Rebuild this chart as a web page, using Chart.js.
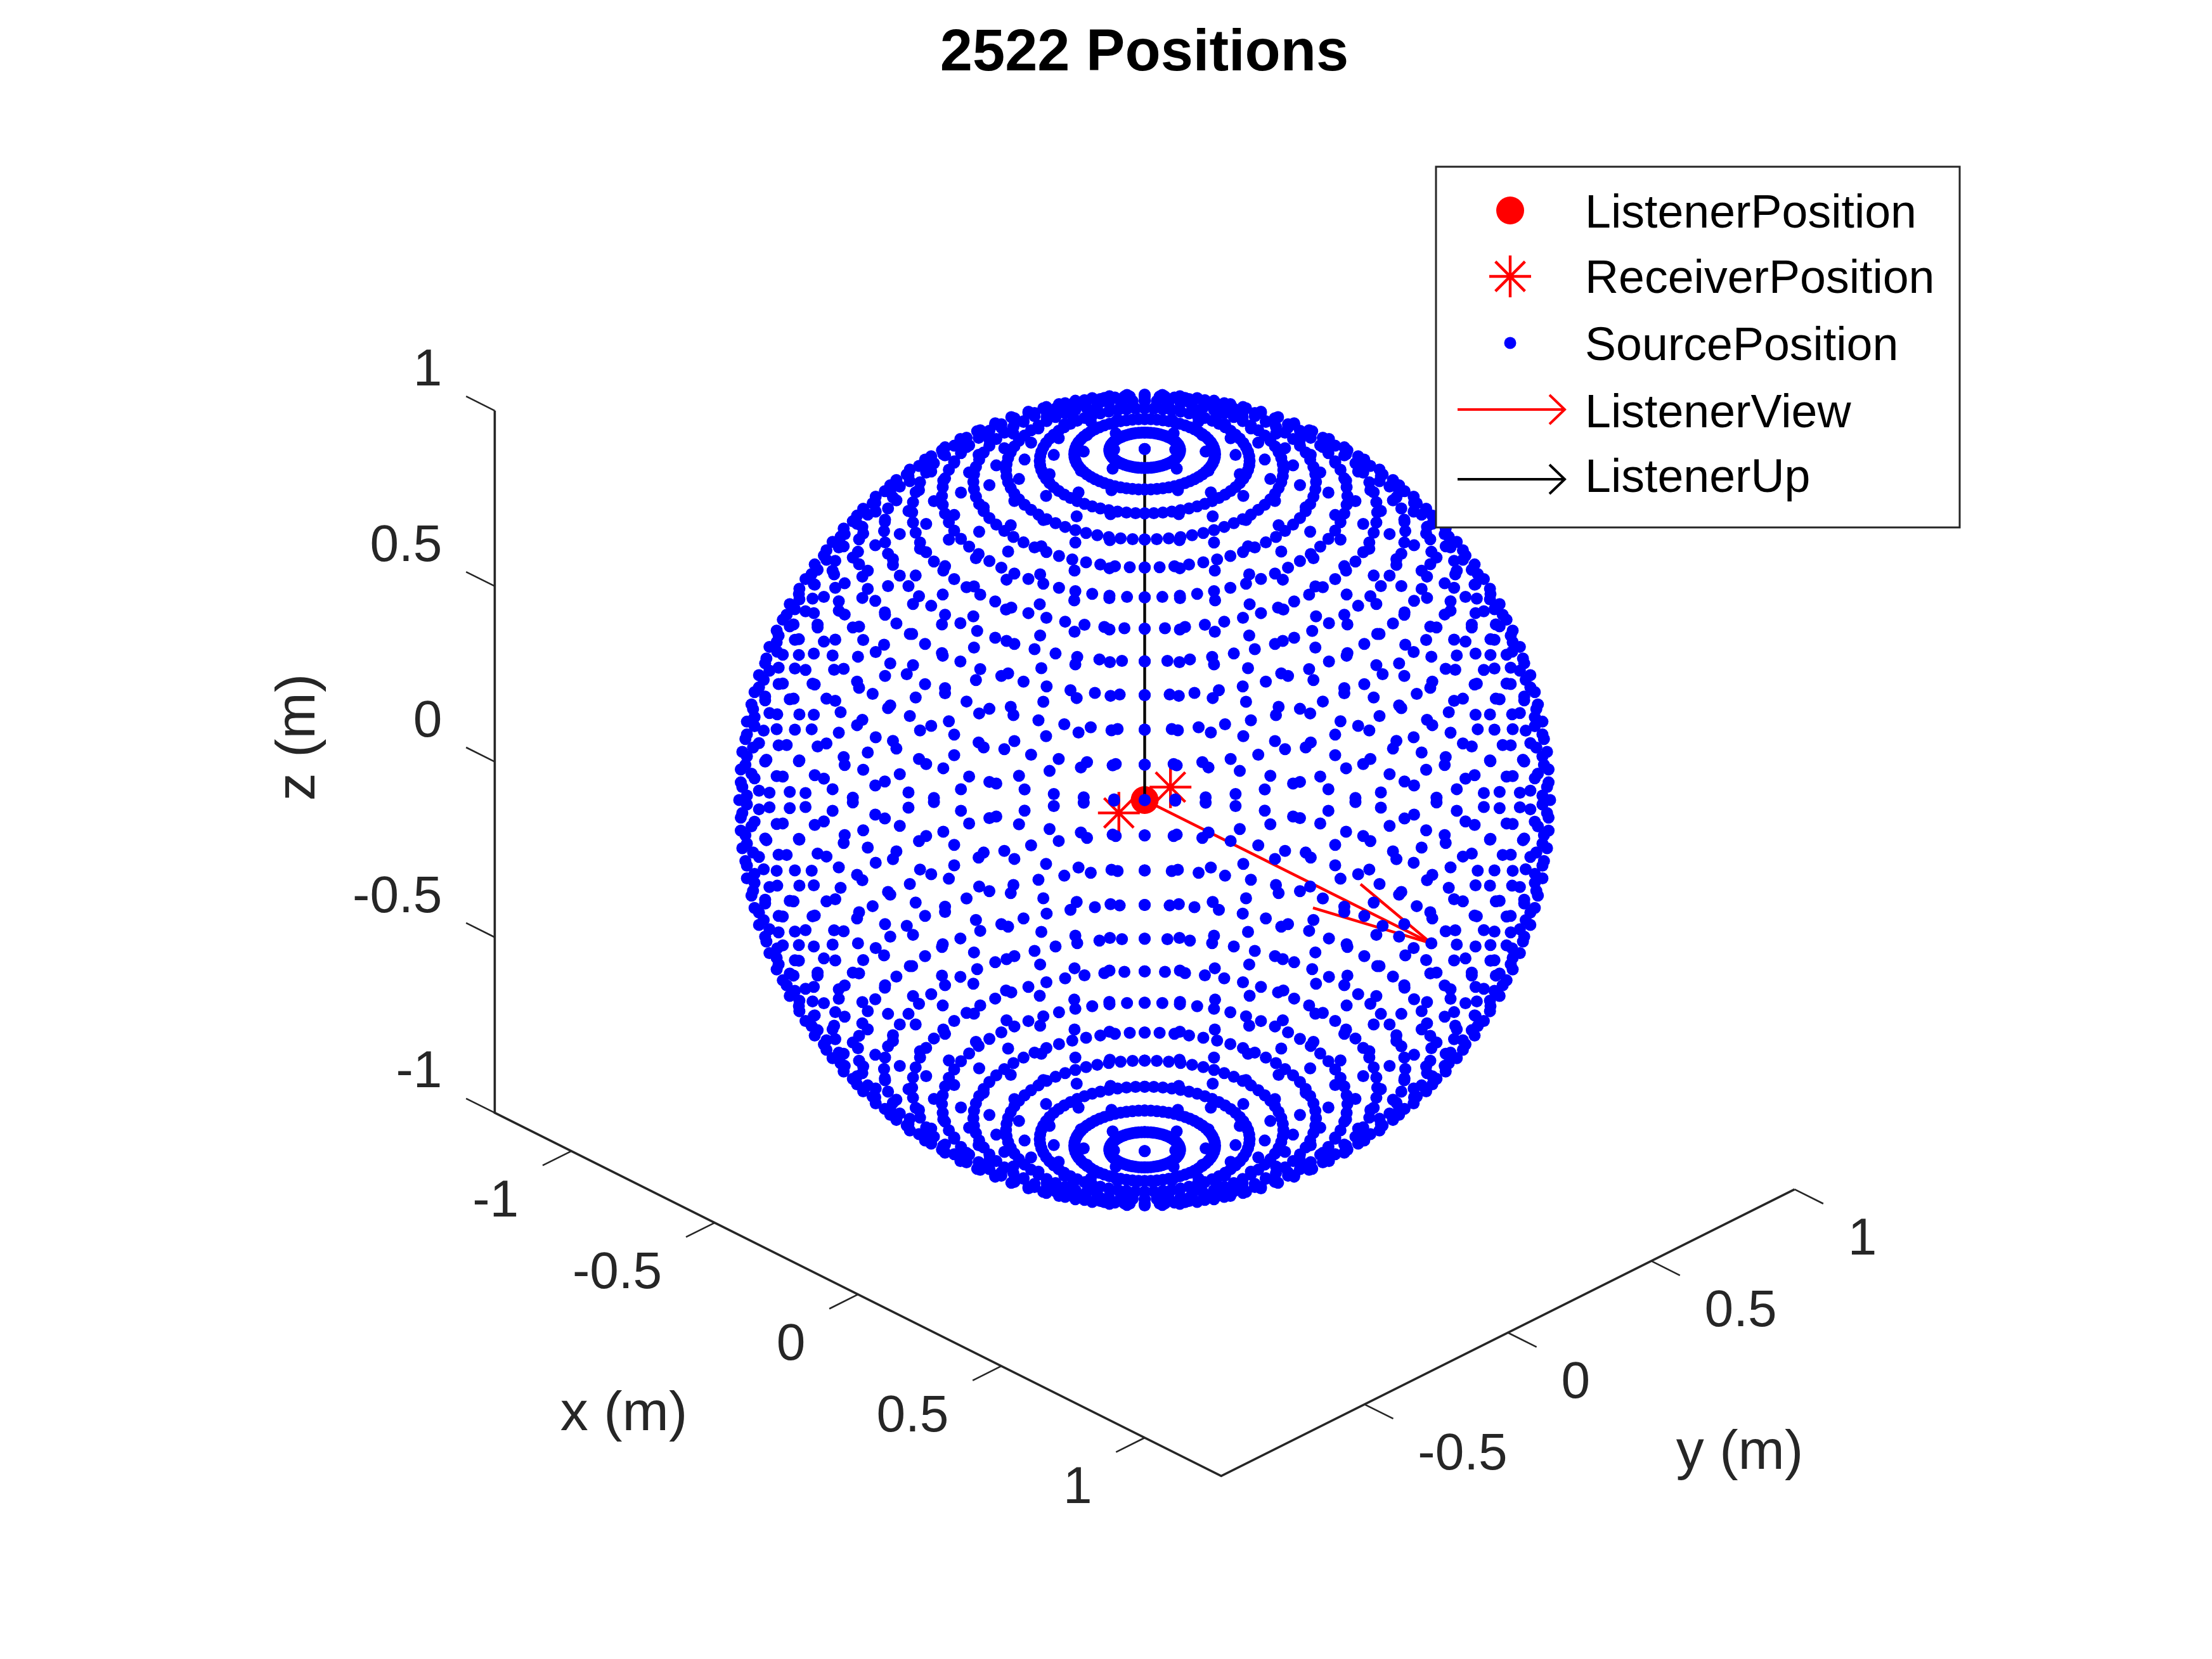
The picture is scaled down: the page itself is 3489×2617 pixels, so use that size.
<!DOCTYPE html>
<html>
<head>
<meta charset="utf-8">
<title>2522 Positions</title>
<style>
  html, body { margin: 0; padding: 0; background: #fff; }
  canvas { display: block; }
</style>
<script src="https://cdn.jsdelivr.net/npm/chart.js@4/dist/chart.umd.js"></script>
</head>
<body>
<canvas id="chart" width="3489" height="2617"></canvas>
<script>
// source grid (degrees)
const sourceAzimuths = [
  0, 5, 10, 15, 20, 25, 30, 35, 40, 45, 50, 55, 60, 65, 70, 75, 80, 85,
  90, 95, 100, 105, 110, 115, 120, 125, 130, 135, 140, 145, 150, 155, 160, 165, 170, 175,
  180, 185, 190, 195, 200, 205, 210, 215, 220, 225, 230, 235, 240, 245, 250, 255, 260, 265,
  270, 275, 280, 285, 290, 295, 300, 305, 310, 315, 320, 325, 330, 335, 340, 345, 350, 355
];
const sourceElevations = [
  -85, -80, -75, -70, -65, -60, -55, -50, -45, -40, -35, -30, -25, -20, -15, -10, -5, 0,
  5, 10, 15, 20, 25, 30, 35, 40, 45, 50, 55, 60, 65, 70, 75, 80, 85
];
const sourcePoles = [-90, 90];

// metres
const listenerPosition = [[0, 0, 0]];
const receiverPositions = [[0, 0.09, 0], [0, -0.09, 0]];
const listenerViewShaft = [[0, 0, 0], [1, 0, 0]];
const listenerViewHead = [[0.67, 0.083, 0], [1, 0, 0], [0.67, -0.083, 0]];
const listenerUpShaft = [[0, 0, 0], [0, 0, 1]];

const xLimits = [-1.267, 1.267];
const yLimits = [-1, 1];
const zLimits = [-1, 1];
const xTicks = [-1, -0.5, 0, 0.5, 1];
const yTicks = [-0.5, 0, 0.5, 1];
const zTicks = [-1, -0.5, 0, 0.5, 1];
const xTickLabels = ["-1", "-0.5", "0", "0.5", "1"];
const yTickLabels = ["-0.5", "0", "0.5", "1"];
const zTickLabels = ["-1", "-0.5", "0", "0.5", "1"];
const tickLength = 0.1;

const titleText = "2522 Positions";
const xLabel = "x (m)";
const yLabel = "y (m)";
const zLabel = "z (m)";
const legendLabels = ["ListenerPosition", "ReceiverPosition", "SourcePosition", "ListenerView", "ListenerUp"];

const viewAz = 45 * Math.PI / 180;
const viewEl = 30 * Math.PI / 180;
const AXIS_COLOR = "#262626";
const FONT = '"Liberation Sans", Arial, sans-serif';

function project(p) {
  const [x, y, z] = p;
  return {
    x: x * Math.cos(viewAz) + y * Math.sin(viewAz),
    y: -x * Math.sin(viewEl) * Math.sin(viewAz) + y * Math.sin(viewEl) * Math.cos(viewAz) + z * Math.cos(viewEl)
  };
}

function fromSpherical(az, el) {
  const a = az * Math.PI / 180, e = el * Math.PI / 180;
  return [Math.cos(e) * Math.cos(a), Math.cos(e) * Math.sin(a), Math.sin(e)];
}

const sourcePoints = [];
sourceElevations.forEach(el => {
  sourceAzimuths.forEach(az => sourcePoints.push(project(fromSpherical(az, el))));
});
sourcePoles.forEach(el => sourcePoints.push(project(fromSpherical(0, el))));

const gap = { x: NaN, y: NaN };
const axisLines = [
  project([xLimits[0], yLimits[0], zLimits[1]]),
  project([xLimits[0], yLimits[0], zLimits[0]]),
  project([xLimits[1], yLimits[0], zLimits[0]]),
  project([xLimits[1], yLimits[1], zLimits[0]])
];

const tickLines = [];
xTicks.forEach(v => tickLines.push(project([v, yLimits[0], zLimits[0]]), project([v, yLimits[0] - tickLength, zLimits[0]]), gap));
yTicks.forEach(v => tickLines.push(project([xLimits[1], v, zLimits[0]]), project([xLimits[1] + tickLength, v, zLimits[0]]), gap));
zTicks.forEach(v => tickLines.push(project([xLimits[0], yLimits[0], v]), project([xLimits[0] - tickLength, yLimits[0], v]), gap));

function lineSet(label, data, color, width, order) {
  return {
    label, data, order,
    showLine: true, fill: false, tension: 0, spanGaps: false,
    borderColor: color, borderWidth: width, pointRadius: 0
  };
}

// lower order is painted later, the blue points sit on top of everything
const datasets = [
  {
    label: "SourcePosition", order: 0, data: sourcePoints, showLine: false,
    pointStyle: "circle", pointRadius: 9.5, pointBorderWidth: 0,
    pointBackgroundColor: "#0000ff", pointHoverRadius: 9.5
  },
  lineSet("ListenerUp", listenerUpShaft.map(project), "#000000", 4.4, 1),
  {
    label: "ReceiverPosition", order: 1, data: receiverPositions.map(project), showLine: false,
    pointStyle: "star", pointRadius: 33, pointBorderWidth: 4.4, pointBorderColor: "#ff0000",
    pointBackgroundColor: "#ff0000"
  },
  {
    label: "ListenerPosition", order: 2, data: listenerPosition.map(project), showLine: false,
    pointStyle: "circle", pointRadius: 22, pointBorderWidth: 0, pointBackgroundColor: "#ff0000"
  },
  lineSet("ListenerView", listenerViewShaft.map(project), "#ff0000", 4.4, 3),
  lineSet("ListenerViewHead", listenerViewHead.map(project), "#ff0000", 4.4, 3),
  lineSet("axes", axisLines, AXIS_COLOR, 3.6, 5),
  lineSet("ticks", tickLines, AXIS_COLOR, 2.6, 5)
];

function drawText(ctx, text, x, y, font, color, align) {
  ctx.font = font;
  ctx.fillStyle = color;
  ctx.textAlign = align;
  ctx.textBaseline = "alphabetic";
  ctx.fillText(text, x, y);
}

const textPlugin = {
  id: "textPlugin",
  afterDraw(chart) {
    const { ctx, scales } = chart;
    const px = p => {
      const q = project(p);
      return { x: scales.x.getPixelForValue(q.x), y: scales.y.getPixelForValue(q.y) };
    };
    const tickFont = "82px " + FONT;
    const labelFont = "88px " + FONT;
    const digitMid = 29;

    ctx.save();
    drawText(ctx, titleText, 1805, 111, "bold 92px " + FONT, "#000", "center");

    xTicks.forEach((v, i) => {
      const p = px([v, yLimits[0], zLimits[0]]);
      drawText(ctx, xTickLabels[i], p.x - 83, p.y + 74 + digitMid, tickFont, AXIS_COLOR, "right");
    });
    yTicks.forEach((v, i) => {
      const p = px([xLimits[1], v, zLimits[0]]);
      drawText(ctx, yTickLabels[i], p.x + 84, p.y + 74 + digitMid, tickFont, AXIS_COLOR, "left");
    });
    zTicks.forEach((v, i) => {
      const p = px([xLimits[0], yLimits[0], v]);
      drawText(ctx, zTickLabels[i], p.x - 83, p.y - 69 + digitMid, tickFont, AXIS_COLOR, "right");
    });

    drawText(ctx, xLabel, 984, 2256, labelFont, AXIS_COLOR, "center");
    drawText(ctx, yLabel, 2744, 2317, labelFont, AXIS_COLOR, "center");
    ctx.save();
    ctx.translate(496, 1163);
    ctx.rotate(-Math.PI / 2);
    drawText(ctx, zLabel, 0, 0, labelFont, AXIS_COLOR, "center");
    ctx.restore();

    // legend box, it sits on top of the sphere
    ctx.fillStyle = "#fff";
    ctx.fillRect(2265, 263, 826, 569);
    ctx.strokeStyle = AXIS_COLOR;
    ctx.lineWidth = 3;
    ctx.strokeRect(2265, 263, 826, 569);

    const rowY = [332, 436, 541, 646, 756];
    const baselineY = [359, 462, 568, 674, 776];
    const marks = [
      { pointStyle: "circle", radius: 22, borderWidth: 0, color: "#ff0000" },
      { pointStyle: "star", radius: 33, borderWidth: 4.4, color: "#ff0000" },
      { pointStyle: "circle", radius: 9.5, borderWidth: 0, color: "#0000ff" }
    ];
    marks.forEach((m, i) => {
      ctx.fillStyle = m.color;
      ctx.strokeStyle = m.color;
      ctx.lineWidth = m.borderWidth;
      Chart.helpers.drawPoint(ctx, { pointStyle: m.pointStyle, radius: m.radius, rotation: 0, borderWidth: m.borderWidth }, 2382, rowY[i]);
    });
    [["#ff0000", rowY[3]], ["#000000", rowY[4]]].forEach(([color, y]) => {
      ctx.strokeStyle = color;
      ctx.lineWidth = 4;
      ctx.beginPath();
      ctx.moveTo(2299, y);
      ctx.lineTo(2468, y);
      ctx.moveTo(2444, y - 23);
      ctx.lineTo(2468, y);
      ctx.lineTo(2444, y + 23);
      ctx.stroke();
    });
    legendLabels.forEach((t, i) => {
      drawText(ctx, t, 2500, baselineY[i], "73.5px " + FONT, "#000", "left");
    });
    ctx.restore();
  }
};

new Chart(document.getElementById("chart"), {
  type: "scatter",
  data: { datasets },
  options: {
    responsive: false,
    devicePixelRatio: 1,
    animation: false,
    layout: { padding: 0, autoPadding: false },
    plugins: { legend: { display: false }, title: { display: false }, tooltip: { enabled: false } },
    scales: {
      x: { type: "linear", display: false, min: -2.8233, max: 2.6325 },
      y: { type: "linear", display: false, min: -2.1189, max: 1.9734 }
    }
  },
  plugins: [textPlugin]
});
</script>
</body>
</html>
